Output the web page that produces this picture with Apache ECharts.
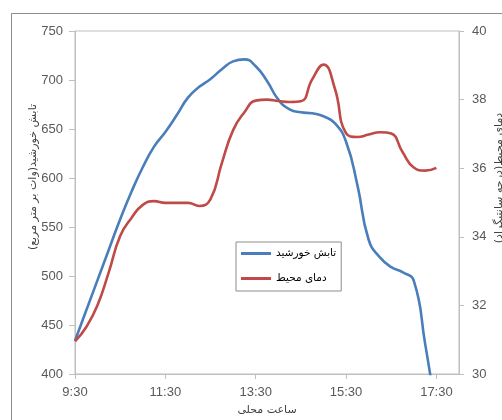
<!DOCTYPE html>
<html>
<head>
<meta charset="utf-8">
<script src="https://cdn.jsdelivr.net/npm/echarts@6/dist/echarts.min.js"></script>
<style>
  html, body { margin: 0; padding: 0; background: #fff; }
  #chart { width: 502px; height: 420px; }
</style>
</head>
<body>
<div id="chart"></div>
<script>
// Quarter-hourly readings, 9:30 to 17:30; the time axis runs on to 18:00
const times = [
  '9:30', '9:45', '10:00', '10:15', '10:30', '10:45', '11:00', '11:15',
  '11:30', '11:45', '12:00', '12:15', '12:30', '12:45', '13:00', '13:15',
  '13:30', '13:45', '14:00', '14:15', '14:30', '14:45', '15:00', '15:15',
  '15:30', '15:45', '16:00', '16:15', '16:30', '16:45', '17:00', '17:15',
  '17:30', '17:45', '18:00'
];

// Solar irradiance, W/m²
const radiation = [
  434, 465, 496, 527, 558, 586, 611, 632,
  647, 664, 682, 693, 701, 711, 719, 721,
  714, 699, 680, 670, 667, 666, 663, 656,
  637, 593, 537, 519, 509, 504, 495, 431,
  359, null, null
];

// Ambient temperature, °C
const temperature = [
  30.95, 31.37, 32.01, 32.98, 34.02, 34.55, 34.93, 35.04,
  34.99, 34.99, 34.99, 34.90, 35.10, 36.15, 37.11, 37.63,
  37.97, 38.00, 37.96, 37.93, 37.95, 38.59, 39.02, 38.33,
  37.02, 36.91, 36.98, 37.05, 37.01, 36.47, 36.02, 35.93,
  36.01, null, null
];

const seriesNames = ['تابش خورشید', 'دمای محیط'];
const leftTitle = 'تابش خورشید(وات بر متر مربع)';
const rightTitle = 'دمای محیط(درجه سانتیگراد)';
const bottomTitle = 'ساعت محلی';

const labelFont = { color: '#595959', fontSize: 13, fontFamily: 'Liberation Sans' };
const axisGray = '#bfbfbf';
const blue = '#4a7ebb';
const red = '#be4b48';

const chart = echarts.init(document.getElementById('chart'), null, { renderer: 'canvas' });

chart.setOption({
  animation: false,
  backgroundColor: '#fff',
  grid: {
    left: 75, right: 43, top: 31, bottom: 46,
    show: true, borderColor: axisGray, borderWidth: 1, backgroundColor: 'transparent'
  },
  legend: {
    orient: 'vertical',
    left: 236, top: 242,
    padding: [6, 5, 7, 5],
    itemGap: 14,
    itemWidth: 30, itemHeight: 3,
    icon: 'rect',
    backgroundColor: '#fff',
    borderColor: '#8c8c8c', borderWidth: 1,
    textStyle: { color: '#000', fontSize: 10.5, fontFamily: 'DejaVu Sans' },
    data: seriesNames
  },
  xAxis: {
    type: 'category',
    data: times,
    boundaryGap: false,
    axisLine: { lineStyle: { color: axisGray } },
    axisTick: { interval: 7, length: 5, lineStyle: { color: axisGray } },
    axisLabel: Object.assign({ interval: 7, margin: 12 }, labelFont),
    splitLine: { show: false }
  },
  yAxis: [
    {
      type: 'value', min: 400, max: 750, interval: 50,
      axisLine: { show: true, lineStyle: { color: axisGray } },
      axisTick: { show: true, length: 6, lineStyle: { color: axisGray } },
      axisLabel: Object.assign({ margin: 12 }, labelFont),
      splitLine: { show: false }
    },
    {
      type: 'value', min: 30, max: 40, interval: 2, position: 'right',
      axisLine: { show: true, lineStyle: { color: axisGray } },
      axisTick: { show: true, length: 5, lineStyle: { color: axisGray } },
      axisLabel: Object.assign({ margin: 13 }, labelFont),
      splitLine: { show: false }
    }
  ],
  series: [
    {
      name: seriesNames[0], type: 'line', yAxisIndex: 0,
      data: radiation, smooth: 0.5, symbol: 'none', clip: true,
      lineStyle: { color: blue, width: 2.6 },
      itemStyle: { color: blue }
    },
    {
      name: seriesNames[1], type: 'line', yAxisIndex: 1,
      data: temperature, smooth: 0.5, symbol: 'none', clip: true,
      lineStyle: { color: red, width: 2.6 },
      itemStyle: { color: red }
    }
  ],
  graphic: [
    {
      type: 'rect', z: -10, silent: true,
      shape: { x: 11.5, y: 13.5, width: 600, height: 500 },
      style: { fill: 'none', stroke: '#8c8c8c', lineWidth: 1 }
    },
    {
      type: 'text', silent: true,
      x: 33, y: 177, rotation: Math.PI / 2,
      style: { text: leftTitle, fill: '#404040', fontSize: 11, fontFamily: 'DejaVu Sans',
               align: 'center', verticalAlign: 'middle' }
    },
    {
      type: 'text', silent: true,
      x: 499, y: 178, rotation: Math.PI / 2,
      style: { text: rightTitle, fill: '#404040', fontSize: 11, fontFamily: 'DejaVu Sans',
               align: 'center', verticalAlign: 'middle' }
    },
    {
      type: 'text', silent: true,
      x: 267, y: 410,
      style: { text: bottomTitle, fill: '#404040', fontSize: 11, fontFamily: 'DejaVu Sans',
               align: 'center', verticalAlign: 'middle' }
    }
  ]
});
</script>
</body>
</html>
